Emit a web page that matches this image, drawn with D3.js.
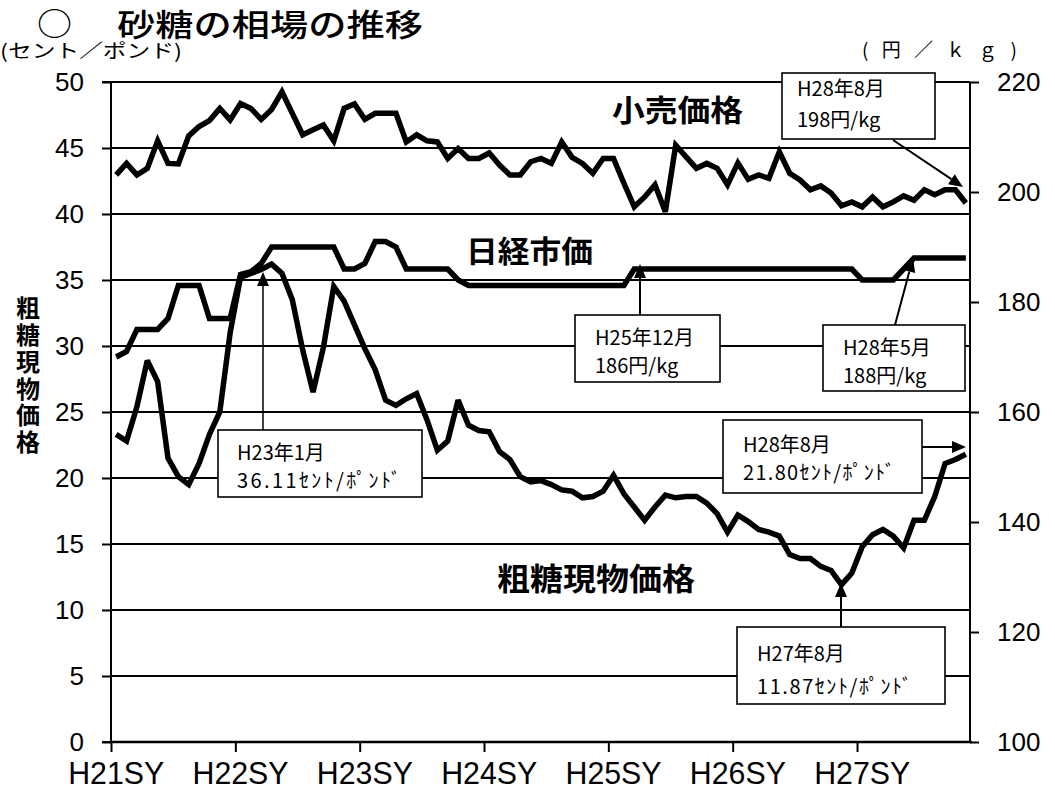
<!DOCTYPE html>
<html><head><meta charset="utf-8">
<script src="https://cdn.jsdelivr.net/npm/d3@7"></script>
<style>
body{margin:0;background:#fff;}
svg{display:block;}
</style></head><body>
<svg id="c" width="1055" height="791"></svg>
<script>
// ---- data ----
const yearLabels = ["H21SY","H22SY","H23SY","H24SY","H25SY","H26SY","H27SY"];
const leftTicks = [0,5,10,15,20,25,30,35,40,45,50];
const rightTicks = [100,120,140,160,180,200,220];
// monthly, Oct 2009 (H21SY start) .. Aug 2016 (H28年8月)
const retailPrice = [203.1,205.2,203.1,204.3,209.3,205.2,205.1,210.2,211.9,213.0,215.2,213.1,216.1,215.2,213.2,215.0,218.2,214.3,210.4,211.3,212.2,209.3,215.2,216.0,213.2,214.3,214.3,214.3,209.1,210.4,209.3,209.1,206.1,207.9,206.1,206.1,207.1,204.9,203.1,203.1,205.5,206.1,
205.2,209.1,206.3,205.2,203.4,206.1,206.1,201.6,197.3,199.1,201.3,196.4,208.5,206.4,204.3,205.2,204.3,201.3,205.3,202.3,203.1,202.5,207.3,203.4,202.2,200.4,201.1,199.8,197.5,198.2,197.3,199.1,197.3,198.2,199.3,198.5,200.4,199.5,200.4,200.4,198.0];
const nikkeiPrice = [170,171,175,175,175,177,183,183,183,177,177,177,185,185.5,187,190,190,190,190,190,190,190,186,186,187,191,191,190,186,186,186,186,186,184,183,
183,183,183,183,183,183,183,183,183,183,183,183,183,183,183,
186,186,186,186,186,186,186,186,186,186,186,186,186,186,186,186,186,186,186,186,186,186,
184,184,184,184,186,188,188,188,188,188,188];
const rawSugarPrice = [23.3,22.8,25.4,28.9,27.3,21.5,20.1,19.5,21.1,23.3,25.0,31.0,35.2,35.5,35.8,36.2,35.5,33.5,29.7,26.5,29.9,34.5,33.4,31.6,29.8,28.2,25.9,25.5,26.0,26.4,24.4,22.1,22.8,25.9,24.0,23.6,23.5,22.0,21.4,20.1,19.7,19.8,19.5,19.1,19.0,18.5,18.6,19.0,20.2,18.8,17.8,16.8,17.8,18.7,18.5,18.6,18.6,18.1,17.3,15.9,17.2,16.7,16.1,15.9,15.6,14.2,13.9,13.9,13.3,13.0,11.9,12.8,14.8,15.7,16.1,15.6,14.7,16.8,16.8,18.6,21.1,21.4,21.8];
const seriesNames = ["小売価格","日経市価","粗糖現物価格"];
const noteRetail = ["H28年8月","198円/kg"];
const noteNikkei1 = ["H25年12月","186円/kg"];
const noteNikkei2 = ["H28年5月","188円/kg"];
const noteRawPeak = ["H23年1月","36.11ｾﾝﾄ/ﾎﾟﾝﾄﾞ"];
const noteRawLast = ["H28年8月","21.80ｾﾝﾄ/ﾎﾟﾝﾄﾞ"];
const noteRawLow = ["H27年8月","11.87ｾﾝﾄ/ﾎﾟﾝﾄﾞ"];

// ---- drawing ----
const JP = "'Noto Sans CJK JP', sans-serif";
const LAT = "'Liberation Sans', Arial, sans-serif";
const svg = d3.select("#c");
svg.append("rect").attr("width",1055).attr("height",791).attr("fill","#fff");

const L = 111, R = 970, T = 82, B = 742;
const nMonths = retailPrice.length; // 83
const x = d3.scaleLinear().domain([0, nMonths]).range([L, R + 1]);
const yL = d3.scaleLinear().domain([0, 50]).range([B, T]);
const yR = d3.scaleLinear().domain([100, 220]).range([B, T]);

// title
svg.append("text").attr("x",37).attr("y",35).attr("font-family",JP).attr("font-size",31)
  .attr("textLength",35).attr("lengthAdjust","spacingAndGlyphs").text("○");
svg.append("text").attr("x",117).attr("y",36).attr("font-family",JP).attr("font-size",31).attr("font-weight",500)
  .attr("textLength",306).attr("lengthAdjust","spacingAndGlyphs").text("砂糖の相場の推移");
svg.append("text").attr("x",0).attr("y",58).attr("font-family",JP).attr("font-size",19)
  .attr("textLength",182).attr("lengthAdjust","spacingAndGlyphs").text("(セント／ポンド)");
svg.append("text").attr("x",862).attr("y",57).attr("font-family",JP).attr("font-size",19)
  .attr("textLength",155).attr("lengthAdjust","spacing").text("(円／ｋｇ)");

// gridlines
svg.append("g").selectAll("line").data(leftTicks).join("line")
  .attr("x1",L).attr("x2",R).attr("y1",d=>yL(d)).attr("y2",d=>yL(d))
  .attr("stroke","#000").attr("stroke-width",2);

// left axis
const gL = svg.append("g").attr("transform",`translate(${L},0)`)
  .call(d3.axisLeft(yL).tickValues(leftTicks).tickSize(9).tickPadding(18).tickFormat(d3.format("d")));
gL.select(".domain").attr("stroke-width",2).attr("d",`M-9,${T}H0V${B}H-9`);
gL.selectAll(".tick line").attr("stroke-width",2);
gL.selectAll(".tick text").attr("font-family",LAT).attr("font-size",26).attr("fill","#000");

// right axis
const gR = svg.append("g").attr("transform",`translate(${R},0)`)
  .call(d3.axisRight(yR).tickValues(rightTicks).tickSize(9).tickPadding(18).tickFormat(d3.format("d")));
gR.select(".domain").attr("stroke-width",2).attr("d",`M0,${T}V${B}`);
gR.selectAll(".tick line").attr("stroke-width",2);
gR.selectAll(".tick text").attr("font-family",LAT).attr("font-size",26).attr("fill","#000");

// bottom axis
const yearTicks = yearLabels.map((d,i)=>i*12);
const gB = svg.append("g").attr("transform",`translate(0,${B})`)
  .call(d3.axisBottom(x).tickValues(yearTicks).tickSize(10).tickFormat(""));
gB.select(".domain").attr("stroke-width",2.5).attr("d",`M${L},0H${R+2}`);
gB.selectAll(".tick line").attr("stroke-width",2);
svg.append("g").selectAll("text").data(yearLabels).join("text")
  .attr("x",(d,i)=>x(i*12+0.5)).attr("y",784).attr("text-anchor","middle")
  .attr("font-family",LAT).attr("font-size",31)
  .attr("textLength",96).attr("lengthAdjust","spacingAndGlyphs").text(d=>d);

// left vertical label
svg.append("text").attr("x",28).attr("y",296).attr("font-family",JP).attr("font-size",24).attr("font-weight",700)
  .style("writing-mode","vertical-rl").attr("letter-spacing",2.8).text(seriesNames[2]);

// lines
const lineR = d3.line().x((d,i)=>x(i+0.5)).y(d=>yR(d));
const lineL = d3.line().x((d,i)=>x(i+0.5)).y(d=>yL(d));
[[retailPrice,lineR],[nikkeiPrice,lineR],[rawSugarPrice,lineL]].forEach(([data,gen])=>{
  svg.append("path").datum(data).attr("d",gen).attr("fill","none").attr("stroke","#000")
    .attr("stroke-width",5.5).attr("stroke-linejoin","miter").attr("stroke-miterlimit",3);
});

// series labels
svg.append("text").attr("x",612).attr("y",121).attr("font-family",JP).attr("font-size",30).attr("font-weight",700)
  .attr("textLength",131).attr("lengthAdjust","spacingAndGlyphs").text(seriesNames[0]);
svg.append("text").attr("x",466).attr("y",262).attr("font-family",JP).attr("font-size",30).attr("font-weight",700)
  .attr("textLength",127).attr("lengthAdjust","spacingAndGlyphs").text(seriesNames[1]);
svg.append("text").attr("x",497).attr("y",590).attr("font-family",JP).attr("font-size",31).attr("font-weight",700)
  .attr("textLength",198).attr("lengthAdjust","spacingAndGlyphs").text(seriesNames[2]);

// annotations
function arrow(x1,y1,x2,y2,w){
  const a = Math.atan2(y2-y1,x2-x1), hl = 14, hw = 6;
  const bx = x2 - hl*Math.cos(a), by = y2 - hl*Math.sin(a);
  svg.append("line").attr("x1",x1).attr("y1",y1).attr("x2",bx).attr("y2",by).attr("stroke","#000").attr("stroke-width",w||2);
  const px = -Math.sin(a)*hw, py = Math.cos(a)*hw;
  svg.append("path").attr("d",`M${x2},${y2}L${bx+px},${by+py}L${bx-px},${by-py}Z`).attr("fill","#000");
}
function note(x0,y0,w,h,lines,tx,b1,b2,len2){
  svg.append("rect").attr("x",x0).attr("y",y0).attr("width",w).attr("height",h)
    .attr("fill","#fff").attr("stroke","#000").attr("stroke-width",1.6);
  svg.append("text").attr("x",tx).attr("y",b1).attr("font-family",JP).attr("font-size",20).text(lines[0]);
  const t2 = svg.append("text").attr("x",tx).attr("y",b2).attr("font-family",JP).attr("font-size",20).text(lines[1]);
  if (len2) t2.attr("textLength",len2).attr("lengthAdjust","spacing");
}
arrow(893,140,963,187,2);
note(782,73,153,66,noteRetail,797,96,127);
arrow(640,315,640,264,2);
note(575,315,145,67,noteNikkei1,595,345,373);
arrow(895,325,913,258,2);
note(823,325,142,66,noteNikkei2,843,355,383);
arrow(263,430,263,272,1.5);
note(218,430,204,67,noteRawPeak,237,460,488,164);
arrow(922,447,966,447,2);
note(723,420,199,73,noteRawLast,743,452,480,152);
arrow(841,627,841,583,2);
note(737,627,208,77,noteRawLow,757,661,694,155);
</script>
</body></html>
